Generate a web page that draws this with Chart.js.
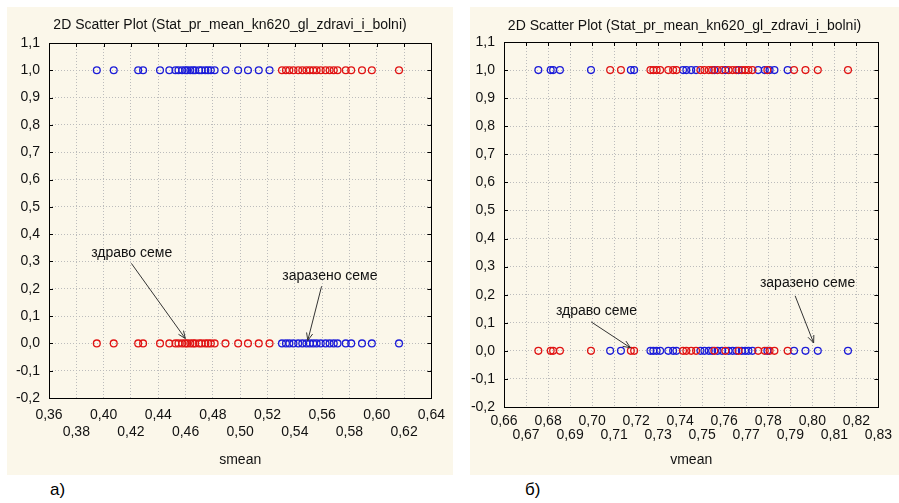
<!DOCTYPE html>
<html>
<head>
<meta charset="utf-8">
<script src="https://cdn.jsdelivr.net/npm/chart.js@4.4.1/dist/chart.umd.min.js"></script>
<style>
    body { margin: 0; width: 899px; height: 503px; position: relative; overflow: hidden; background: #fff;
           font-family: "Liberation Sans", Arial, sans-serif; }
    .panel { position: absolute; top: 7px; height: 468px; background: #fbf7ea; }
    .panel canvas { display: block; }
    #panelA { left: 7px; width: 446px; }
    #panelB { left: 470px; width: 429px; }
    .cap { position: absolute; top: 481px; font-size: 17px; line-height: 1; color: #000; }
</style>
</head>
<body>
<div class="panel" id="panelA"><canvas id="chartA" width="446" height="468"></canvas></div>
<div class="panel" id="panelB"><canvas id="chartB" width="429" height="468"></canvas></div>
<div class="cap" style="left:50px">a)</div>
<div class="cap" style="left:525px">б)</div>

<script>
const titleText = "2D Scatter Plot (Stat_pr_mean_kn620_gl_zdravi_i_bolni)";

// smean of healthy / infected seeds (panel a)
const smeanHealthy = [0.395, 0.4074, 0.4253, 0.4289, 0.4413, 0.4481, 0.4526, 0.4548, 0.4575, 0.4598,
    0.4612, 0.4635, 0.4655, 0.467, 0.4699, 0.4718, 0.4745, 0.4765, 0.4785, 0.4813,
    0.4892, 0.4985, 0.5057, 0.5136, 0.5215];
const smeanInfected = [0.5306, 0.5335, 0.536, 0.539, 0.5425, 0.5455, 0.5485, 0.551, 0.5535, 0.556,
    0.559, 0.5625, 0.5655, 0.5685, 0.5713, 0.5773, 0.5813, 0.5892, 0.5964, 0.6163];

// vmean of healthy / infected seeds (panel б)
const vmeanHealthy = [0.6756, 0.6812, 0.6823, 0.6854, 0.6995, 0.7176, 0.7191, 0.7413, 0.7428, 0.745,
    0.7472, 0.7555, 0.7605, 0.7665, 0.7754, 0.7784, 0.7806, 0.7828, 0.7888];
const vmeanInfected = [0.7082, 0.7131, 0.7265, 0.7278, 0.7293, 0.7309, 0.7346, 0.7368, 0.7383, 0.7492,
    0.751, 0.753, 0.7545, 0.757, 0.759, 0.762, 0.7638, 0.7655, 0.768, 0.7695,
    0.771, 0.7728, 0.7796, 0.7917, 0.7969, 0.8025, 0.8162];

const yTicks = [-0.2, -0.1, 0.0, 0.1, 0.2, 0.3, 0.4, 0.5, 0.6, 0.7, 0.8, 0.9, 1.0, 1.1];
const yTickLabels = ["-0,2", "-0,1", "0,0", "0,1", "0,2", "0,3", "0,4", "0,5", "0,6", "0,7", "0,8", "0,9", "1,0", "1,1"];

const smeanTicks = [0.36, 0.38, 0.40, 0.42, 0.44, 0.46, 0.48, 0.50, 0.52, 0.54, 0.56, 0.58, 0.60, 0.62, 0.64];
const smeanTickLabels = ["0,36", "0,38", "0,40", "0,42", "0,44", "0,46", "0,48", "0,50", "0,52", "0,54", "0,56", "0,58", "0,60", "0,62", "0,64"];

const vmeanTicks = [0.66, 0.67, 0.68, 0.69, 0.70, 0.71, 0.72, 0.73, 0.74, 0.75, 0.76, 0.77, 0.78, 0.79, 0.80, 0.81, 0.82, 0.83];
const vmeanTickLabels = ["0,66", "0,67", "0,68", "0,69", "0,70", "0,71", "0,72", "0,73", "0,74", "0,75", "0,76", "0,77", "0,78", "0,79", "0,80", "0,81", "0,82", "0,83"];

// arrow notes, in data units
const notesA = [
    { text: "здраво семе", x: 0.3909, y: 0.33, fromX: 0.4203, fromY: 0.293, toX: 0.4598, toY: 0.018 },
    { text: "заразено семе", x: 0.5308, y: 0.245, fromX: 0.5596, fromY: 0.209, toX: 0.5495, toY: 0.011 }
];
const notesB = [
    { text: "здраво семе", x: 0.6836, y: 0.142, fromX: 0.6996, fromY: 0.103, toX: 0.7174, toY: 0.011 },
    { text: "заразено семе", x: 0.7762, y: 0.242, fromX: 0.7922, fromY: 0.196, toX: 0.8006, toY: 0.028 }
];

const FONT = '"Liberation Sans", Arial, sans-serif';
Chart.defaults.font.family = FONT;
Chart.defaults.color = "#111";

const BLUE = "#1c1cd8";
const RED = "#e01414";

function makeChart(id, healthy, infected, xTicks, xLabels, axisName, notes, g) {
    // blue: healthy -> 1, infected -> 0 ; red: healthy -> 0, infected -> 1
    const blue = healthy.map(v => ({ x: v, y: 1 })).concat(infected.map(v => ({ x: v, y: 0 })));
    const red = infected.map(v => ({ x: v, y: 1 })).concat(healthy.map(v => ({ x: v, y: 0 })));

    const extras = {
        id: "extras",
        afterDraw(chart) {
            const { ctx, chartArea: a, scales: { x, y } } = chart;
            ctx.save();
            // frame + inward ticks
            ctx.strokeStyle = "#000";
            ctx.lineWidth = 1;
            ctx.strokeRect(Math.round(a.left) + 0.5, Math.round(a.top) + 0.5, Math.round(a.width), Math.round(a.height));
            ctx.beginPath();
            x.ticks.forEach(t => {
                const px = Math.round(x.getPixelForValue(t.value)) + 0.5;
                ctx.moveTo(px, a.top); ctx.lineTo(px, a.top + 4);
            });
            y.ticks.forEach(t => {
                const py = Math.round(y.getPixelForValue(t.value)) + 0.5;
                ctx.moveTo(a.left, py); ctx.lineTo(a.left + 4, py);
                ctx.moveTo(a.right, py); ctx.lineTo(a.right - 4, py);
            });
            ctx.stroke();

            ctx.fillStyle = "#111";
            ctx.font = "14px " + FONT;
            ctx.textBaseline = "middle";
            ctx.textAlign = "center";
            ctx.fillText(titleText, chart.width / 2, g.titleY);
            ctx.fillText(axisName, (a.left + a.right) / 2, a.bottom + g.nameGap);

            // notes with arrows
            ctx.textAlign = "left";
            ctx.font = "14px " + FONT;
            ctx.strokeStyle = "#333";
            notes.forEach(n => {
                ctx.fillText(n.text, x.getPixelForValue(n.x), y.getPixelForValue(n.y));
                const x1 = x.getPixelForValue(n.fromX), y1 = y.getPixelForValue(n.fromY);
                const x2 = x.getPixelForValue(n.toX), y2 = y.getPixelForValue(n.toY);
                const ang = Math.atan2(y2 - y1, x2 - x1);
                ctx.beginPath();
                ctx.moveTo(x1, y1); ctx.lineTo(x2, y2);
                ctx.moveTo(x2 - 8 * Math.cos(ang - 0.4), y2 - 8 * Math.sin(ang - 0.4));
                ctx.lineTo(x2, y2);
                ctx.lineTo(x2 - 8 * Math.cos(ang + 0.4), y2 - 8 * Math.sin(ang + 0.4));
                ctx.stroke();
            });
            ctx.restore();
        }
    };

    const gridOpts = { color: "#bcbcbc", lineWidth: 1, drawTicks: false };
    const borderOpts = { display: false, dash: [1, 2] };

    return new Chart(document.getElementById(id), {
        type: "scatter",
        data: {
            datasets: [
                { data: red, borderColor: RED, backgroundColor: "rgba(0,0,0,0)" },
                { data: blue, borderColor: BLUE, backgroundColor: "rgba(0,0,0,0)" }
            ]
        },
        options: {
            responsive: false,
            animation: false,
            events: [],
            layout: { padding: { top: g.top, right: g.right, bottom: 0, left: 0 } },
            elements: { point: { radius: 3.4, borderWidth: 1.3, pointStyle: "circle" } },
            plugins: { legend: { display: false }, tooltip: { enabled: false } },
            scales: {
                x: {
                    type: "linear",
                    min: xTicks[0],
                    max: xTicks[xTicks.length - 1],
                    afterBuildTicks: s => { s.ticks = xTicks.map(v => ({ value: v })); },
                    afterFit: s => { s.height = g.xHeight; },
                    grid: gridOpts,
                    border: borderOpts,
                    ticks: {
                        autoSkip: false,
                        maxRotation: 0,
                        padding: g.xPad,
                        font: { size: 14, lineHeight: g.lh },
                        callback: (v, i) => i % 2 === 0 ? [xLabels[i], ""] : ["", xLabels[i]]
                    }
                },
                y: {
                    min: yTicks[0],
                    max: yTicks[yTicks.length - 1],
                    afterBuildTicks: s => { s.ticks = yTicks.map(v => ({ value: v })); },
                    afterFit: s => { s.width = g.yWidth; },
                    grid: gridOpts,
                    border: borderOpts,
                    ticks: {
                        autoSkip: false,
                        padding: 9,
                        font: { size: 14 },
                        callback: (v, i) => yTickLabels[i]
                    }
                }
            }
        },
        plugins: [extras]
    });
}

makeChart("chartA", smeanHealthy, smeanInfected, smeanTicks, smeanTickLabels, "smean", notesA,
    { top: 36, right: 14, yWidth: 42, xHeight: 77, xPad: 8, lh: 1.24, titleY: 18, nameGap: 62 });
makeChart("chartB", vmeanHealthy, vmeanInfected, vmeanTicks, vmeanTickLabels, "vmean", notesB,
    { top: 35, right: 13, yWidth: 34, xHeight: 68, xPad: 7, lh: 1.0, titleY: 19, nameGap: 53 });
</script>
</body>
</html>
